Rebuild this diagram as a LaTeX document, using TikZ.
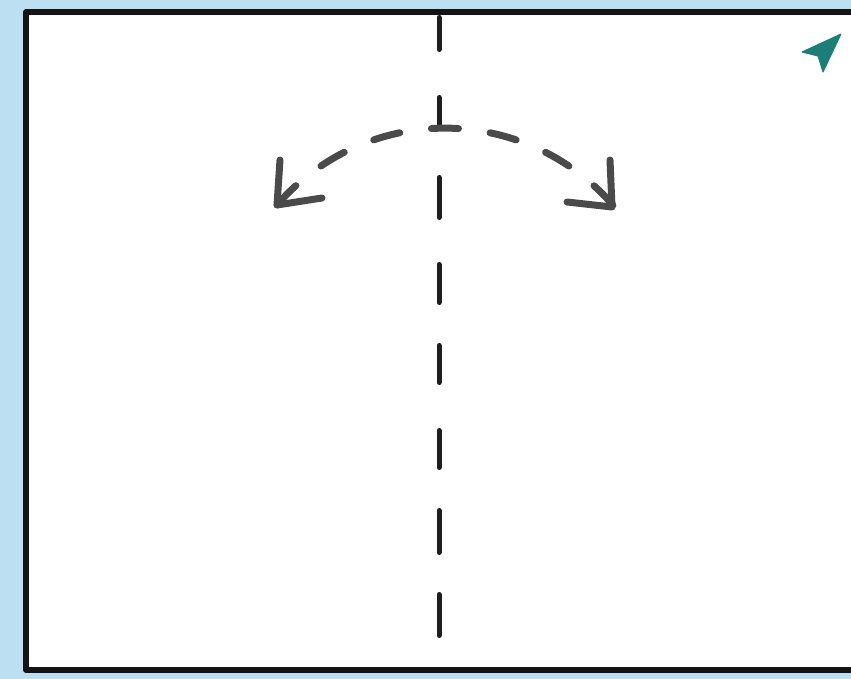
\documentclass[tikz,border=0pt]{standalone}
\usetikzlibrary{calc}
\definecolor{bgblue}{HTML}{BCDFF1}
\definecolor{framek}{HTML}{141414}
\definecolor{axisk}{HTML}{1E1E1E}
\definecolor{arcgray}{HTML}{4A4A4A}
\definecolor{teal}{HTML}{1C7F77}
\tikzset{
  frameline/.style={draw=framek, line width=5.5pt, line join=round, line cap=round},
  axisline/.style={draw=axisk, line width=5pt, line cap=round,
    dash pattern=on 32pt off 48pt on 30pt off 50pt on 40pt off 47pt on 38pt off 43pt on 37pt off 48pt on 37pt off 43pt on 42pt off 42pt on 41pt off 50pt},
  arcline/.style={draw=arcgray, line width=7pt, line cap=round, dash pattern=on 27pt off 32pt},
  headline/.style={draw=arcgray, line width=7pt, line cap=round, line join=round},
  pointer/.style={fill=teal, draw=teal, line width=1pt, line join=round}
}
\begin{document}
\begin{tikzpicture}[x=1pt,y=-1pt]
\useasboundingbox (0,0) rectangle (851,679);
\clip (0,0) rectangle (851,679);
\fill[bgblue] (0,0) rectangle (851,679);
% sheet
\fill[white] (26,12) rectangle (870,670);
\draw[frameline] (870,12) -- (26,12) -- (26,670) -- (870,670);
% fold axis
\coordinate (axtop) at (439,17.5);
\coordinate (axbot) at (439,635.5);
\draw[axisline] (axtop) -- (axbot);
% turning arc
\coordinate (lefttip) at (277,205);
\coordinate (righttip) at (612,207);
\draw[arcline] (lefttip) arc[start angle=-139.2, end angle=-40.6, radius=221.8];
\draw[headline] (280,160) -- (lefttip) -- (322,198);
\draw[headline] (610,160) -- (righttip) -- (567,202);
% pointer icon
\filldraw[pointer] (841,34) -- (802,52) -- (818,56) -- (823,72) -- cycle;
\end{tikzpicture}
\end{document}
